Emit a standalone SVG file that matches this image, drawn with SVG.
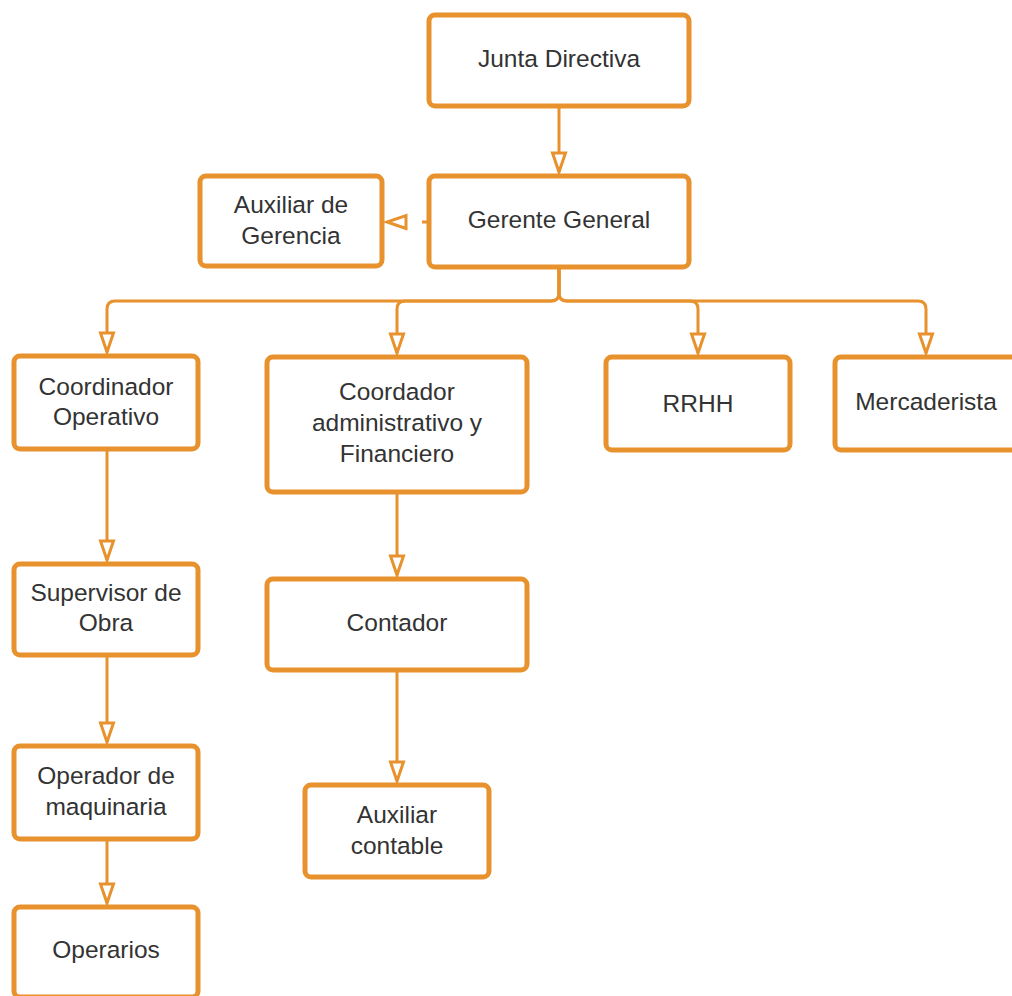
<svg xmlns="http://www.w3.org/2000/svg" width="1012" height="996" viewBox="0 0 1012 996">
<style>
.box{fill:#fff;stroke:#E8922E;stroke-width:5}
.lbl{font-family:"Liberation Sans",Arial,sans-serif;font-size:24.5px;fill:#333;text-anchor:middle;dominant-baseline:central}
.conn{fill:none;stroke:#E8922E;stroke-width:3}
.dash{stroke-dasharray:7 16}
</style>
<defs>
<marker id="arr" markerUnits="userSpaceOnUse" viewBox="-2 -2 24 17" refX="19" refY="6.5" markerWidth="24" markerHeight="17" orient="auto" overflow="visible">
<path d="M0,0 L19,6.5 L0,13 Z" fill="#fff" stroke="#E8922E" stroke-width="3" stroke-linejoin="miter"/>
</marker>
</defs>
<rect width="1012" height="996" fill="#fff"/>
<g id="connectors">
<path class="conn" d="M559,106 V172" marker-end="url(#arr)"/>
<path class="conn dash" d="M429,222 H387" marker-end="url(#arr)"/>
<path class="conn" d="M559,267 V293 Q559,301 551,301 H115 Q107,301 107,309 V352" marker-end="url(#arr)"/>
<path class="conn" d="M559,267 V293 Q559,301 551,301 H405 Q397,301 397,309 V353" marker-end="url(#arr)"/>
<path class="conn" d="M559,267 V293 Q559,301 567,301 H690 Q698,301 698,309 V353" marker-end="url(#arr)"/>
<path class="conn" d="M559,267 V293 Q559,301 567,301 H918 Q926,301 926,309 V353" marker-end="url(#arr)"/>
<path class="conn" d="M107,450 V560" marker-end="url(#arr)"/>
<path class="conn" d="M107,655 V742" marker-end="url(#arr)"/>
<path class="conn" d="M107,839 V903" marker-end="url(#arr)"/>
<path class="conn" d="M397,492 V575" marker-end="url(#arr)"/>
<path class="conn" d="M397,670 V781" marker-end="url(#arr)"/>
</g>
<g id="junta"><rect class="box" x="429" y="15" width="260" height="91" rx="6"/><text class="lbl" x="559" y="58">Junta Directiva</text></g>
<g id="gerente"><rect class="box" x="429" y="176" width="260" height="91" rx="6"/><text class="lbl" x="559" y="219">Gerente General</text></g>
<g id="auxgerencia"><rect class="box" x="200" y="176" width="182" height="90" rx="6"/><text class="lbl" x="291" y="204">Auxiliar de</text><text class="lbl" x="291" y="235">Gerencia</text></g>
<g id="coordop"><rect class="box" x="14" y="356" width="184" height="93" rx="6"/><text class="lbl" x="106" y="386">Coordinador</text><text class="lbl" x="106" y="416">Operativo</text></g>
<g id="coordadm"><rect class="box" x="267" y="357" width="260" height="135" rx="6"/><text class="lbl" x="397" y="391">Coordador</text><text class="lbl" x="397" y="422">administrativo y</text><text class="lbl" x="397" y="453">Financiero</text></g>
<g id="rrhh"><rect class="box" x="606" y="357" width="184" height="93" rx="6"/><text class="lbl" x="698" y="403">RRHH</text></g>
<g id="mercaderista"><rect class="box" x="835" y="357" width="184" height="93" rx="6"/><text class="lbl" x="926" y="401">Mercaderista</text></g>
<g id="supervisor"><rect class="box" x="14" y="564" width="184" height="91" rx="6"/><text class="lbl" x="106" y="592">Supervisor de</text><text class="lbl" x="106" y="622">Obra</text></g>
<g id="contador"><rect class="box" x="267" y="579" width="260" height="91" rx="6"/><text class="lbl" x="397" y="622">Contador</text></g>
<g id="operador"><rect class="box" x="14" y="746" width="184" height="93" rx="6"/><text class="lbl" x="106" y="775">Operador de</text><text class="lbl" x="106" y="806">maquinaria</text></g>
<g id="auxcontable"><rect class="box" x="305" y="785" width="184" height="92" rx="6"/><text class="lbl" x="397" y="814">Auxiliar</text><text class="lbl" x="397" y="845">contable</text></g>
<g id="operarios"><rect class="box" x="14" y="907" width="184" height="90" rx="6"/><text class="lbl" x="106" y="949">Operarios</text></g>
</svg>
